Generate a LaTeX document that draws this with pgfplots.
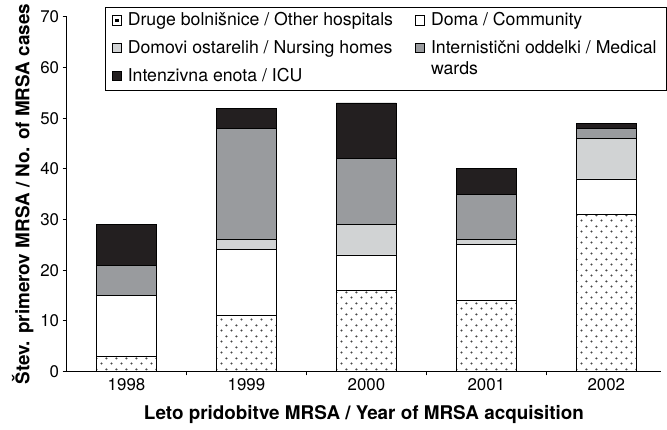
\documentclass[border=0pt]{standalone}
\usepackage{fontspec}
\setmainfont{TeX Gyre Heros}
\usepackage{pgfplots}
\pgfplotsset{compat=1.18}
\usetikzlibrary{patterns}

\definecolor{icu}{RGB}{35,31,32}
\definecolor{medward}{RGB}{153,155,158}
\definecolor{nursing}{RGB}{209,211,212}
\definecolor{dotgray}{RGB}{70,70,70}

% staggered dots as in the printed figure
\pgfdeclarepatternformonly{sparsedots}{\pgfqpoint{0pt}{0pt}}{\pgfqpoint{10pt}{10.6pt}}{\pgfqpoint{10pt}{10.6pt}}{%
  \pgfpathcircle{\pgfqpoint{2.5pt}{2.65pt}}{1.2pt}
  \pgfpathcircle{\pgfqpoint{7.5pt}{7.95pt}}{1.2pt}
  \pgfusepath{fill}
}

\begin{document}
\begin{tikzpicture}
\path (-67pt,-58pt) rectangle (600pt,374pt);
\begin{axis}[%
width=599pt,
height=357pt,
at={(0pt,0pt)},
scale only axis,
ybar stacked,
bar width=0.5,
xmin=-0.5,
xmax=4.46,
ymin=0,
ymax=70,
ytick={0,10,...,70},
xtick={0,1,2,3,4},
xticklabels={1998,1999,2000,2001,2002},
major x tick style={draw=none},
extra x ticks={0.5,1.5,2.5,3.5},
extra x tick labels={},
extra x tick style={major x tick style={draw=black}},
tick align=outside,
major tick length=4pt,
axis x line*=bottom,
axis y line*=left,
axis line style={-, line width=0.8pt},
tick style={line width=0.8pt, black},
tick label style={font=\fontsize{17}{20}\selectfont},
/pgf/number format/assume math mode=true,
xlabel={Leto pridobitve MRSA / Year of MRSA acquisition},
ylabel={Štev. primerov MRSA / No. of MRSA cases},
label style={font=\bfseries\fontsize{19}{22}\selectfont},
legend columns=2,
legend cell align=left,
legend style={at={(axis description cs:0.0651,1.028)}, anchor=north west,
  draw=black, line width=0.8pt, inner xsep=6pt, inner ysep=0pt,
  font=\fontsize{17.8}{21}\selectfont,
  nodes={font=\fontsize{17.8}{21}\selectfont, text height=13pt, text depth=4pt,
    inner ysep=5.5pt, inner xsep=0pt},
  /tikz/every odd column/.append style={column sep=6pt},
  /tikz/every even column/.append style={column sep=0pt}},
legend image code/.code={\draw[#1, line width=0.8pt] (0.4pt,-3.8pt) rectangle (9.9pt,5.7pt);},
every axis plot/.append style={draw=black, line width=0.8pt}
]
\addplot[pattern=sparsedots, pattern color=dotgray,
  legend image code/.code={%
    \draw[black, line width=0.8pt, fill=white] (0.4pt,-3.8pt) rectangle (9.9pt,5.7pt);
    \fill[black] (3.8pt,-0.4pt) rectangle (6.5pt,2.3pt);}]
  coordinates {(0,3) (1,11) (2,16) (3,14) (4,31)};
\addlegendentry{Druge bolnišnice / Other hospitals\hspace*{22pt}}
\addplot[fill=white] coordinates {(0,12) (1,13) (2,7) (3,11) (4,7)};
\addlegendentry{Doma / Community}
\addplot[fill=nursing] coordinates {(0,0) (1,2) (2,6) (3,1) (4,8)};
\addlegendentry{Domovi ostarelih / Nursing homes\hspace*{22pt}}
\addplot[fill=medward] coordinates {(0,6) (1,22) (2,13) (3,9) (4,2)};
\addlegendentry{\smash{\begin{tabular}[t]{@{}l@{}}Internistični oddelki / Medical\\wards\end{tabular}}\hspace*{4pt}}
\addplot[fill=icu] coordinates {(0,8) (1,4) (2,11) (3,5) (4,1)};
\addlegendentry{Intenzivna enota / ICU}
\end{axis}
\end{tikzpicture}
\end{document}
